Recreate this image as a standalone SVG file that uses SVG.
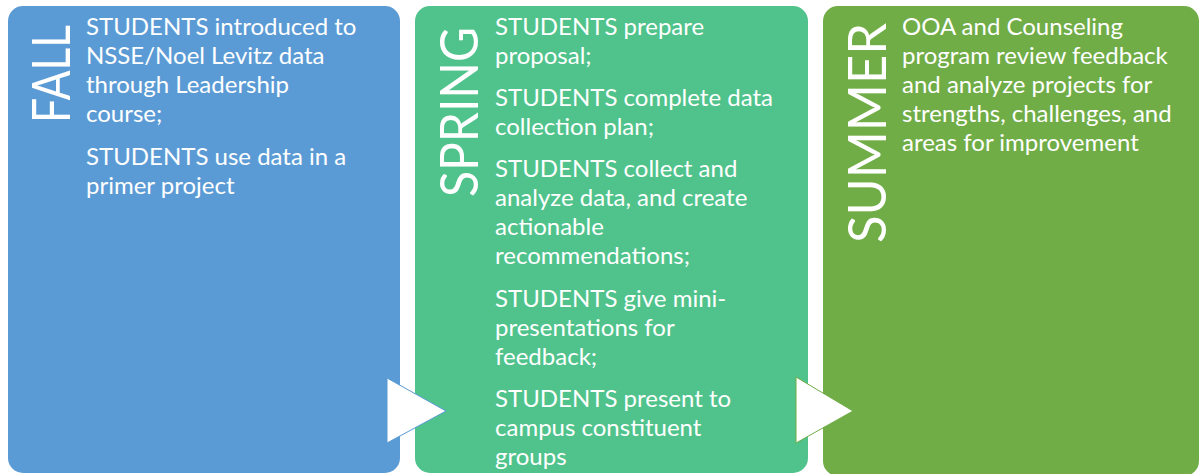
<svg xmlns="http://www.w3.org/2000/svg" width="1204" height="474" viewBox="0 0 1204 474">
<style>
.t{font-family:Lato,"Open Sans",sans-serif;font-size:24px;fill:#ffffff}
.h{font-family:Lato,"Open Sans",sans-serif;font-size:52px;fill:#ffffff}
.arr{fill:#ffffff;stroke-width:1}
</style>
<rect width="1204" height="474" fill="#ffffff"/>
<g id="fall">
<rect x="8" y="6" width="392" height="467" rx="15" fill="#5b9bd5"/>
<text class="h" transform="translate(70,123) rotate(-90)" textLength="98" lengthAdjust="spacingAndGlyphs">FALL</text>
<text class="t" x="86"><tspan x="86" y="35">STUDENTS introduced to</tspan><tspan x="86" y="64">NSSE/Noel Levitz data</tspan><tspan x="86" y="93">through Leadership</tspan><tspan x="86" y="122">course;</tspan><tspan x="86" y="165">STUDENTS use data in a</tspan><tspan x="86" y="194">primer project</tspan></text>
</g>
<g id="spring">
<rect x="415" y="6" width="393" height="467" rx="15" fill="#50c38c"/>
<text class="h" transform="translate(478,197) rotate(-90)" textLength="170" lengthAdjust="spacingAndGlyphs">SPRING</text>
<text class="t"><tspan x="495" y="35">STUDENTS prepare</tspan><tspan x="495" y="64">proposal;</tspan><tspan x="495" y="106">STUDENTS complete data</tspan><tspan x="495" y="135">collection plan;</tspan><tspan x="495" y="177">STUDENTS collect and</tspan><tspan x="495" y="206">analyze data, and create</tspan><tspan x="495" y="235">actionable</tspan><tspan x="495" y="264">recommendations;</tspan><tspan x="495" y="307">STUDENTS give mini-</tspan><tspan x="495" y="336">presentations for</tspan><tspan x="495" y="365">feedback;</tspan><tspan x="495" y="407">STUDENTS present to</tspan><tspan x="495" y="436">campus constituent</tspan><tspan x="495" y="465">groups</tspan></text>
</g>
<g id="summer">
<rect x="823" y="6" width="376" height="470" rx="15" fill="#70ad47"/>
<text class="h" transform="translate(886,243) rotate(-90)" textLength="220" lengthAdjust="spacingAndGlyphs">SUMMER</text>
<text class="t"><tspan x="902" y="35">OOA and Counseling</tspan><tspan x="902" y="64">program review feedback</tspan><tspan x="902" y="93">and analyze projects for</tspan><tspan x="902" y="122">strengths, challenges, and</tspan><tspan x="902" y="151">areas for improvement</tspan></text>
</g>
<g id="connectors">
<polygon class="arr" points="387,378 446,411 387,443" stroke="#5b9bd5"/>
<polygon class="arr" points="796,377 853,411 796,443" stroke="#70ad47"/>
</g>
</svg>
